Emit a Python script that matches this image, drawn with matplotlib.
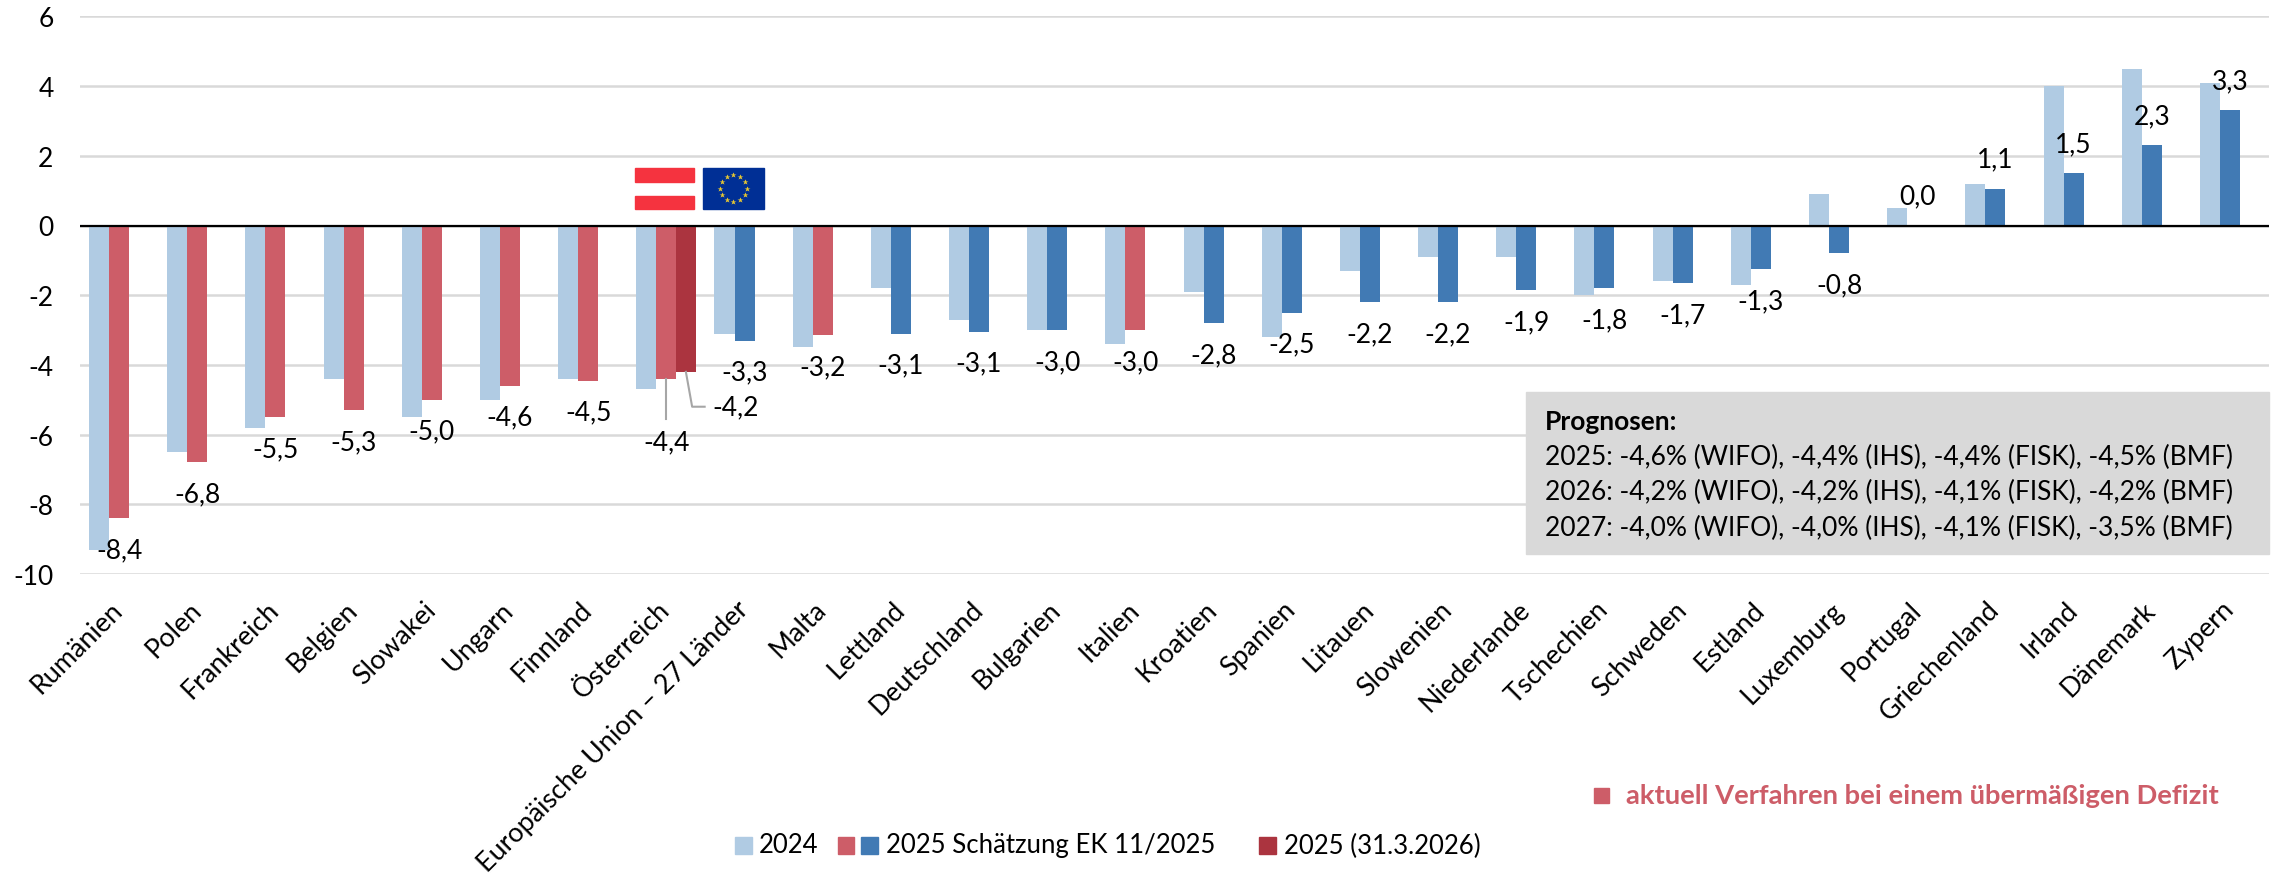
import numpy as np
import matplotlib
matplotlib.use('Agg')
import matplotlib.pyplot as plt
from matplotlib.patches import Rectangle
from matplotlib.transforms import ScaledTranslation

plt.rcParams['font.family'] = ['Lato', 'DejaVu Sans']

### Data

laender = ['Rumänien', 'Polen', 'Frankreich', 'Belgien', 'Slowakei', 'Ungarn', 'Finnland',
           'Österreich', 'Europäische Union – 27 Länder', 'Malta', 'Lettland', 'Deutschland',
           'Bulgarien', 'Italien', 'Kroatien', 'Spanien', 'Litauen', 'Slowenien', 'Niederlande',
           'Tschechien', 'Schweden', 'Estland', 'Luxemburg', 'Portugal', 'Griechenland',
           'Irland', 'Dänemark', 'Zypern']
werte_2024 = [-9.3, -6.5, -5.8, -4.4, -5.5, -5.0, -4.4, -4.7, -3.1, -3.5, -1.8, -2.7, -3.0, -3.4,
              -1.9, -3.2, -1.3, -0.9, -0.9, -2.0, -1.6, -1.7, 0.9, 0.5, 1.2, 4.0, 4.5, 4.1]
werte_2025 = [-8.4, -6.8, -5.5, -5.3, -5.0, -4.6, -4.45, -4.4, -3.3, -3.15, -3.1, -3.05, -3.0, -3.0,
              -2.8, -2.5, -2.2, -2.2, -1.85, -1.8, -1.65, -1.25, -0.8, 0.0, 1.05, 1.5, 2.3, 3.3]
labels_2025 = ['-8,4', '-6,8', '-5,5', '-5,3', '-5,0', '-4,6', '-4,5', '-4,4', '-3,3', '-3,2',
               '-3,1', '-3,1', '-3,0', '-3,0', '-2,8', '-2,5', '-2,2', '-2,2', '-1,9', '-1,8',
               '-1,7', '-1,3', '-0,8', '0,0', '1,1', '1,5', '2,3', '3,3']
verfahren = ['Rumänien', 'Polen', 'Frankreich', 'Belgien', 'Slowakei', 'Ungarn', 'Finnland',
             'Österreich', 'Malta', 'Italien']
oesterreich_aktuell = -4.2
yticks = [6, 4, 2, 0, -2, -4, -6, -8, -10]

prognosen = ['2025: -4,6% (WIFO), -4,4% (IHS), -4,4% (FISK), -4,5% (BMF)',
             '2026: -4,2% (WIFO), -4,2% (IHS), -4,1% (FISK), -4,2% (BMF)',
             '2027: -4,0% (WIFO), -4,0% (IHS), -4,1% (FISK), -3,5% (BMF)']

hell = '#B0CBE3'
blau = '#417AB4'
rot = '#CD5D68'
dunkelrot = '#AB343F'
grau = '#D9D9D9'

W, H = 2280, 878
FS = 19


def fx(px):
    return px / W


def fy(px):
    return 1 - px / H


def fig_rect(x0, y0, x1, y1, color, zorder=6):
    fig.patches.append(Rectangle((fx(x0), fy(y1)), fx(x1) - fx(x0), fy(y0) - fy(y1),
                                 transform=fig.transFigure, color=color, zorder=zorder))


### Plot

fig = plt.figure(figsize=(W / 100, H / 100), dpi=100)
ax = fig.add_axes([fx(80), fy(575), fx(2269) - fx(80), fy(17.4) - fy(575)])

x = np.arange(len(laender))
w = 0.256
farben = [rot if l in verfahren else blau for l in laender]
oe = laender.index('Österreich')

ax.bar(x - w, werte_2024, w, color=hell, zorder=2)
ax.bar(x, werte_2025, w, color=farben, zorder=2)
ax.bar(x[oe] + w, oesterreich_aktuell, w, color=dunkelrot, zorder=2)

ax.set_xlim(-0.5, len(laender) - 0.5)
ax.set_ylim(-10, 6)
ax.set_yticks(yticks)
ax.set_yticklabels([str(t) for t in yticks], fontsize=FS)
ax.set_xticks(x)
ax.set_xticklabels(laender, rotation=45, ha='right', rotation_mode='anchor', fontsize=FS + 0.4)
ax.tick_params(axis='both', length=0)
ax.tick_params(axis='y', pad=19)
ax.tick_params(axis='x', pad=16)
# Labels etwas nach links
shift = ScaledTranslation(-9 / 100, 0, fig.dpi_scale_trans)
for t in ax.get_xticklabels():
    t.set_transform(t.get_transform() + shift)
ax.grid(axis='y', color=grau, lw=1.8, zorder=0)
ax.axhline(0, color='black', lw=1.6, zorder=3)
for s in ax.spines.values():
    s.set_visible(False)

# Datenlabels
for i, lab in enumerate(labels_2025):
    wert = werte_2025[i]
    if i == oe:
        ax.text(x[i], -6.2, lab, ha='center', va='center', fontsize=FS, zorder=5)
    else:
        ypos = wert + 0.85 if wert >= 0 else wert - 0.9
        ax.text(x[i], ypos, lab, ha='center', va='center', fontsize=FS, zorder=5)
ax.text(x[oe] + 0.88, -5.2, '-4,2', ha='center', va='center', fontsize=FS, zorder=5)

# Fuehrungslinien Oesterreich
ax.plot([x[oe], x[oe]], [-4.4, -5.55], color='#A6A6A6', lw=1.5, zorder=4)
ax.plot([x[oe] + 0.25, x[oe] + 0.33, x[oe] + 0.49], [-4.2, -5.2, -5.2], color='#A6A6A6', lw=1.5, zorder=4)

# Prognosen Box
fig_rect(1526, 393, 2269, 555, grau)
fig.text(fx(1545), fy(422), 'Prognosen:', fontsize=FS, fontweight='bold', va='center', zorder=7)
for zeile, py in zip(prognosen, [457, 492.5, 528]):
    fig.text(fx(1545), fy(py), zeile, fontsize=FS, va='center', zorder=7)

# Flaggen
fig_rect(635, 169, 694, 183, '#F5333F')
fig_rect(635, 197, 694, 210, '#F5333F')
fig_rect(703, 169, 764, 210, '#002F95')
winkel = np.arange(12) * np.pi / 6
sterne_x = fx(733.5) + np.cos(winkel) * 13.5 / W
sterne_y = fy(189.5) + np.sin(winkel) * 13.5 / H
fig.add_artist(plt.Line2D(sterne_x, sterne_y, ls='none', marker='*', ms=4, mfc='#E8C832', mec='none',
                          transform=fig.transFigure, zorder=7))

# Verfahren Hinweis
fig_rect(1593.5, 789, 1609.5, 804, rot)
fig.text(fx(1626), fy(796), 'aktuell Verfahren bei einem übermäßigen Defizit', color=rot,
         fontsize=FS + 0.7, fontweight='bold', va='center')

# Legende
fig_rect(735, 838, 752, 854.5, hell)
fig_rect(838, 838, 854, 854.5, rot)
fig_rect(861, 838, 878, 854.5, blau)
fig_rect(1259, 838, 1276, 854.5, dunkelrot)
for px, text in zip([759, 886, 1284], ['2024', '2025 Schätzung EK 11/2025', '2025 (31.3.2026)']):
    fig.text(fx(px), fy(846), text, fontsize=FS - 0.5, va='center')

fig.savefig('out.png', dpi=100)
